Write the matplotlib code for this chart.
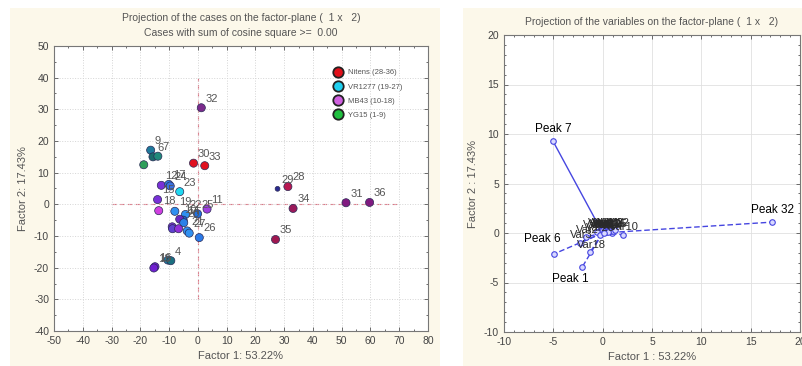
import matplotlib.pyplot as plt
from matplotlib.lines import Line2D
from matplotlib.patches import Rectangle

plt.rcParams['font.family'] = ['Liberation Sans', 'DejaVu Sans']
plt.rcParams['axes.unicode_minus'] = False

# ---- cases (left panel) ----
case_labels = ['32', '30', '33', '9', '6', '7', '', '12', '17', '24', '15', '23',
               '18', '19', '22', '25', '11', '14', '10', '20', '21', '27', '26',
               '16', '13', '', '4', '', '', '', '29', '28', '34', '35', '31', '36']
case_f1 = [1.2, -1.5, 2.4, -16.4, -15.6, -13.9, -18.8, -12.7, -10.1, -9.6, -14.0, -6.3,
           -13.6, -8.0, -4.3, -0.1, 3.2, -5.1, -6.3, -4.9, -3.7, -3.0, 0.5,
           -14.9, -15.3, -10.4, -9.4, -8.9, -8.8, -6.7, 27.7, 31.3, 33.1, 27.0, 51.5, 59.7]
case_f2 = [30.5, 13.0, 12.2, 17.1, 15.0, 15.2, 12.5, 6.0, 6.3, 5.8, 1.5, 4.0,
           -2.0, -2.2, -3.2, -3.0, -1.5, -5.0, -4.7, -5.8, -8.4, -9.1, -10.5,
           -19.7, -20.1, -17.6, -17.8, -7.1, -7.7, -7.7, 4.9, 5.6, -1.3, -11.1, 0.5, 0.6]
case_colors = ['#7b2a8c', '#e01020', '#e01020', '#1f7a9c', '#1a6b6b', '#208a7a', '#2e9e5a',
               '#7a30d8', '#2f7fe8', '#3a70e0', '#7a30d8', '#20d8f0',
               '#d040e0', '#3090f0', '#3090f0', '#1f70e0', '#a040e0', '#2060d0', '#6a28c0',
               '#2a80e8', '#3090f0', '#3090f0', '#2a7ae8',
               '#7020d0', '#7020d0', '#2080a0', '#1a7080', '#7a30d0', '#6040d0', '#9030d8',
               '#2a2a90', '#b81850', '#9a1a5a', '#a01850', '#801a80', '#801a80']

groups = ['Nitens (28-36)', 'VR1277 (19-27)', 'MB43 (10-18)', 'YG15 (1-9)']
group_colors = ['#e0101a', '#20d0f0', '#d060e0', '#20c040']

# ---- variables (right panel) ----
var_names = ['Peak 7', 'Peak 32', 'Peak 6', 'Peak 1', 'Var18', 'Var10', 'Var2', 'Var3',
             'Var4', 'Var5', 'Var8', 'Var9', 'Var11', 'Var12', 'Var13', 'Var14', 'Var15',
             'Var16', 'Var17', 'Var19', 'Var20', 'Var21', 'Var22']
var_f1 = [-5.03, 17.2, -4.9, -2.05, -1.28, 2.07, -1.7, -2.3, 0.9, -0.4, -0.2, 0.0,
          0.2, 0.4, 0.6, 0.8, 1.0, -0.6, 0.3, 0.5, -0.3, 0.1, 1.2]
var_f2 = [9.27, 1.1, -2.1, -3.4, -1.94, -0.17, -0.4, -1.0, 0.0, 0.25, 0.2, 0.3,
          0.25, 0.2, 0.3, 0.25, 0.2, 0.1, 0.15, 0.1, -0.2, 0.05, 0.3]

fig = plt.figure(figsize=(8.02, 3.66), dpi=100)
cream = '#fcf8ea'
fig.patches.append(Rectangle((10 / 802, 0), 430 / 802, 358 / 366, transform=fig.transFigure,
                             facecolor=cream, edgecolor='none', zorder=-5))
fig.patches.append(Rectangle((463 / 802, 0), 339 / 802, 358 / 366, transform=fig.transFigure,
                             facecolor=cream, edgecolor='none', zorder=-5))

tick_kw = dict(direction='in', labelsize=7.5, labelcolor='#444444', colors='#555555',
               top=True, right=True, length=3, width=0.6)

# ---------------- left panel ----------------
ax1 = fig.add_axes([54 / 802, 35 / 366, 374 / 802, 285 / 366])
ax1.set_facecolor('white')
ax1.set_xlim(-50, 80)
ax1.set_ylim(-40, 50)
ax1.set_xticks(range(-50, 81, 10))
ax1.set_yticks(range(-40, 51, 10))
ax1.set_xticks(range(-50, 81, 5), minor=True)
ax1.set_yticks(range(-40, 51, 5), minor=True)
ax1.tick_params(which='both', **tick_kw)
ax1.tick_params(which='minor', length=1.5)
ax1.grid(True, which='major', color='#d5d5d5', linestyle=':', linewidth=0.7)
for s in ax1.spines.values():
    s.set_color('#777777')
    s.set_linewidth(0.8)

ax1.plot([0, 0], [-30, 40], color='#e07585', linestyle=(0, (4, 3)), linewidth=0.8, zorder=1)
ax1.plot([-30, 70], [0, 0], color='#e07585', linestyle=(0, (4, 3)), linewidth=0.8, zorder=1)

sizes = [12 if lab == '29' else 34 for lab in case_labels]
ax1.scatter(case_f1, case_f2, s=sizes, c=case_colors, edgecolors='#2a2a55',
            linewidths=0.5, zorder=3)
for lab, x, y in zip(case_labels, case_f1, case_f2):
    if lab:
        ax1.annotate(lab, (x, y), xytext=(3, 3), textcoords='offset points',
                     fontsize=8, color='#555555', ha='left', va='bottom', zorder=4)

handles = [Line2D([], [], marker='o', linestyle='none', markersize=7.5,
                  markerfacecolor=c, markeredgecolor='#222222', markeredgewidth=1.3)
           for c in group_colors]
leg = ax1.legend(handles, groups, loc='upper left', bbox_to_anchor=(0.73, 0.93),
                 frameon=False, fontsize=5.5, labelspacing=0.9, handletextpad=0.4,
                 borderaxespad=0)
for t in leg.get_texts():
    t.set_color('#555555')

ax1.set_xlabel('Factor 1: 53.22%', fontsize=8, color='#555555', labelpad=4)
ax1.set_ylabel('Factor 2: 17.43%', fontsize=8, color='#555555', labelpad=4)
fig.text(241 / 802, 1 - 18 / 366, 'Projection of the cases on the factor-plane (  1 x   2)',
         ha='center', va='center', fontsize=7.5, color='#555555')
fig.text(241 / 802, 1 - 33 / 366, 'Cases with sum of cosine square >=  0.00',
         ha='center', va='center', fontsize=7.5, color='#555555')

# ---------------- right panel ----------------
ax2 = fig.add_axes([504 / 802, 34 / 366, 296 / 802, 297 / 366])
ax2.set_facecolor('white')
ax2.set_xlim(-10, 20)
ax2.set_ylim(-10, 20)
ax2.set_xticks(range(-10, 21, 5))
ax2.set_yticks(range(-10, 21, 5))
ax2.set_xticks(range(-10, 21, 1), minor=True)
ax2.set_yticks(range(-10, 21, 1), minor=True)
ax2.tick_params(which='both', **tick_kw)
ax2.tick_params(which='minor', length=1.5)
ax2.grid(True, which='major', color='#e0e0e0', linestyle='-', linewidth=0.6)
for s in ax2.spines.values():
    s.set_color('#777777')
    s.set_linewidth(0.8)

peak_offsets = {'Peak 7': (0, 9), 'Peak 32': (0, 9), 'Peak 6': (-9, 11), 'Peak 1': (-9, -9)}
for name, x, y in zip(var_names, var_f1, var_f2):
    ls = '-' if name == 'Peak 7' else (0, (4, 2))
    ax2.plot([0, x], [0, y], color='#4646e0', linestyle=ls, linewidth=1.0, zorder=2)
    ax2.plot(x, y, marker='o', markersize=4, markerfacecolor='#d8d8ff',
             markeredgecolor='#4646e0', markeredgewidth=0.8, zorder=3)
    if name in peak_offsets:
        ax2.annotate(name, (x, y), xytext=peak_offsets[name], textcoords='offset points',
                     fontsize=8.5, color='black', ha='center', va='center', zorder=5)
    else:
        ax2.text(x + 0.1, y + 0.75, name, fontsize=8, color='#2a2a2a',
                 ha='center', va='center', zorder=4)

ax2.set_xlabel('Factor 1 : 53.22%', fontsize=8, color='#555555', labelpad=4)
ax2.set_ylabel('Factor 2 : 17.43%', fontsize=8, color='#555555', labelpad=4)
fig.text(652 / 802, 1 - 22 / 366, 'Projection of the variables on the factor-plane (  1 x   2)',
         ha='center', va='center', fontsize=7.5, color='#555555')

fig.savefig('out.png', dpi=100)
